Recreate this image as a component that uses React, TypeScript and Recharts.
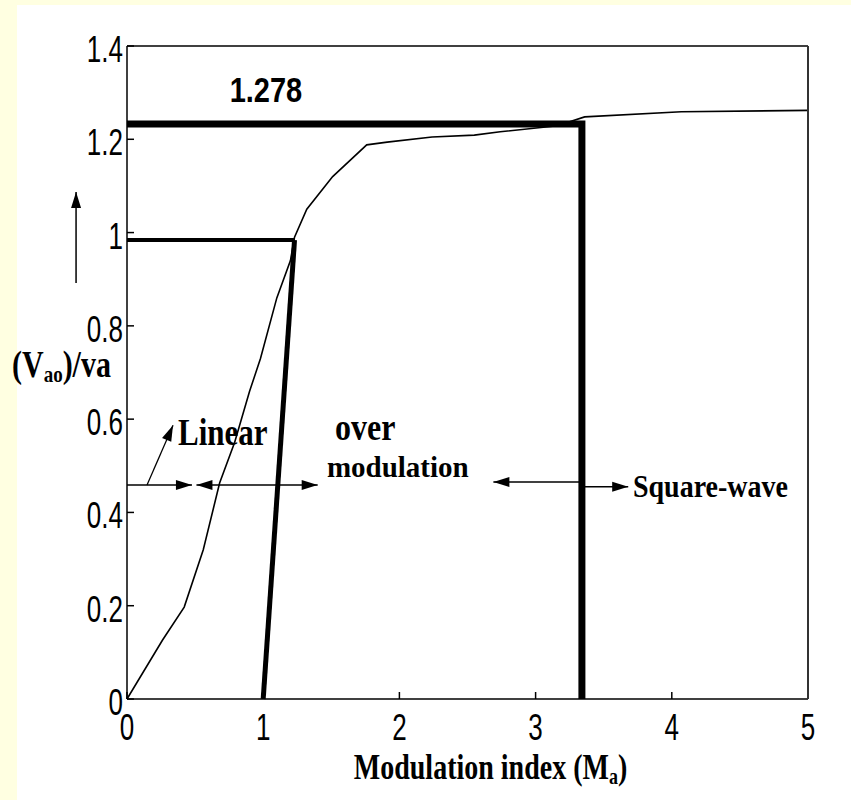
import React from 'react';
import { ComposedChart, Line, XAxis, YAxis, ReferenceLine, ReferenceDot } from 'recharts';

// modulation index vs normalised fundamental voltage
const curveX = [0, 0.26, 0.42, 0.56, 0.68, 0.79, 0.9, 0.98, 1.1, 1.2, 1.23, 1.32, 1.51, 1.76, 1.91, 2.24, 2.55, 2.74, 3.16, 3.36, 4.07, 5];
const curveY = [0, 0.126, 0.197, 0.32, 0.463, 0.55, 0.66, 0.73, 0.86, 0.94, 0.99, 1.05, 1.12, 1.188, 1.194, 1.205, 1.209, 1.216, 1.229, 1.248, 1.259, 1.262];

const xTicks = [0, 1, 2, 3, 4, 5];
const yTicks = [0, 0.2, 0.4, 0.6, 0.8, 1, 1.2, 1.4];

// guide lines
const squareX = [0, 3.34, 3.34];
const squareY = [1.233, 1.233, 0];
const linearHX = [0, 1.23];
const linearHY = [0.984, 0.984];
const linearSX = [1.23, 1.0];
const linearSY = [0.984, 0];

const zip = (xs: number[], ys: number[]) => xs.map((x, i) => ({ x, y: ys[i] }));
const curveData = zip(curveX, curveY);
const squareData = zip(squareX, squareY);
const linearHData = zip(linearHX, linearHY);
const linearSData = zip(linearSX, linearSY);

const SANS = '"Liberation Sans", Arial, sans-serif';
const SERIF = '"Liberation Serif", "Times New Roman", serif';

function StretchText({ x, y, k = 1, anchor = 'start', family = SERIF, size = 28, weight = 'bold', children }: any) {
  return (
    <text
      transform={`translate(${x},${y}) scale(1,${k})`}
      textAnchor={anchor}
      fontFamily={family}
      fontSize={size}
      fontWeight={weight}
      fill="#000"
    >
      {children}
    </text>
  );
}

function arrow(startHead: boolean, endHead: boolean, width = 1.5) {
  return (p: any) => {
    const { x1, y1, x2, y2 } = p;
    const dx = x2 - x1;
    const dy = y2 - y1;
    const len = Math.sqrt(dx * dx + dy * dy) || 1;
    const ux = dx / len;
    const uy = dy / len;
    const head = (tx: number, ty: number, sx: number, sy: number) => {
      const bx = tx - sx * 16;
      const by = ty - sy * 16;
      return `${tx},${ty} ${bx - sy * 5},${by + sx * 5} ${bx + sy * 5},${by - sx * 5}`;
    };
    return (
      <g>
        <line x1={x1} y1={y1} x2={x2} y2={y2} stroke="#000" strokeWidth={width} />
        {endHead && <polygon points={head(x2, y2, ux, uy)} fill="#000" />}
        {startHead && <polygon points={head(x1, y1, -ux, -uy)} fill="#000" />}
      </g>
    );
  };
}

function textAt(content: React.ReactNode, opts: any) {
  return (p: any) => (
    <StretchText x={p.cx} y={p.cy} {...opts}>
      {content}
    </StretchText>
  );
}

function XTick({ x, y, payload }: any) {
  return (
    <StretchText x={x} y={y} k={1.4} anchor="middle" family={SANS} size={26} weight="normal">
      {String(payload.value)}
    </StretchText>
  );
}

function YTick({ x, y, payload }: any) {
  return (
    <StretchText x={x} y={y + 16} k={1.4} anchor="end" family={SANS} size={26} weight="normal">
      {String(payload.value)}
    </StretchText>
  );
}

function XTitle({ viewBox }: any) {
  const { x, y, width } = viewBox;
  return (
    <StretchText x={x + width / 2 + 23} y={y + 80} k={1.3} anchor="middle" size={28}>
      Modulation index (M
      <tspan fontSize={18} dy={4}>a</tspan>
      <tspan dy={-4}>)</tspan>
    </StretchText>
  );
}

function YTitle({ viewBox }: any) {
  const { x, y } = viewBox;
  return (
    <StretchText x={x + 12} y={y + 331} k={1.25} size={30}>
      (V
      <tspan fontSize={19} dy={4}>ao</tspan>
      <tspan dy={-4}>)/va</tspan>
    </StretchText>
  );
}

const noTick = () => <g />;

export default function App() {
  return (
    <div style={{ position: 'absolute', left: 0, top: 0, width: 851, height: 800, background: '#FFFFE1' }}>
      <div style={{ position: 'absolute', left: 17, top: 5, right: 0, bottom: 0, background: '#fff' }} />
      <div style={{ position: 'absolute', left: 0, top: 0 }}>
        <ComposedChart width={851} height={800} margin={{ top: 45, right: 42, bottom: 0, left: 0 }}>
          <XAxis
            dataKey="x"
            type="number"
            domain={[0, 5]}
            ticks={xTicks}
            interval={0}
            height={101}
            tickSize={-7}
            tickMargin={48}
            tick={<XTick />}
            axisLine={{ stroke: '#000', strokeWidth: 1.5 }}
            tickLine={{ stroke: '#000', strokeWidth: 1.5 }}
            label={{ content: XTitle }}
          />
          <XAxis
            xAxisId="top"
            orientation="top"
            dataKey="x"
            type="number"
            domain={[0, 5]}
            ticks={xTicks}
            interval={0}
            height={1}
            tickSize={-7}
            tick={noTick}
            axisLine={{ stroke: '#000', strokeWidth: 1.5 }}
            tickLine={{ stroke: '#000', strokeWidth: 1.5 }}
          />
          <YAxis
            type="number"
            domain={[0, 1.4]}
            ticks={yTicks}
            interval={0}
            width={127}
            tickSize={-7}
            tickMargin={11}
            tick={<YTick />}
            axisLine={{ stroke: '#000', strokeWidth: 1.5 }}
            tickLine={{ stroke: '#000', strokeWidth: 1.5 }}
            label={{ content: YTitle }}
          />
          <YAxis
            yAxisId="right"
            orientation="right"
            type="number"
            domain={[0, 1.4]}
            ticks={yTicks}
            interval={0}
            width={1}
            tickSize={-7}
            tick={noTick}
            axisLine={{ stroke: '#333', strokeWidth: 2 }}
            tickLine={{ stroke: '#000', strokeWidth: 1.5 }}
          />

          <Line data={curveData} dataKey="y" type="linear" stroke="#000" strokeWidth={1.6} dot={false} activeDot={false} isAnimationActive={false} />
          <Line data={squareData} dataKey="y" type="linear" stroke="#000" strokeWidth={7} strokeLinejoin="miter" dot={false} activeDot={false} isAnimationActive={false} />
          <Line data={linearHData} dataKey="y" type="linear" stroke="#000" strokeWidth={4} dot={false} activeDot={false} isAnimationActive={false} />
          <Line data={linearSData} dataKey="y" type="linear" stroke="#000" strokeWidth={5} dot={false} activeDot={false} isAnimationActive={false} />

          {/* region arrows */}
          <ReferenceLine segment={[{ x: 0, y: 0.459 }, { x: 0.477, y: 0.459 }]} shape={arrow(false, true)} />
          <ReferenceLine segment={[{ x: 0.51, y: 0.459 }, { x: 1.4, y: 0.459 }]} shape={arrow(true, true)} />
          <ReferenceLine segment={[{ x: 0.147, y: 0.459 }, { x: 0.338, y: 0.587 }]} shape={arrow(false, true, 1.3)} />
          <ReferenceLine segment={[{ x: 3.34, y: 0.465 }, { x: 2.69, y: 0.465 }]} shape={arrow(false, true)} />
          <ReferenceLine segment={[{ x: 3.34, y: 0.455 }, { x: 3.68, y: 0.455 }]} shape={arrow(false, true)} />
          <ReferenceLine ifOverflow="visible" segment={[{ x: -0.374, y: 0.892 }, { x: -0.374, y: 1.087 }]} shape={arrow(false, true, 1.5)} />

          {/* labels */}
          <ReferenceDot x={1.02} y={1.28} shape={textAt('1.278', { anchor: 'middle', family: SANS, size: 29, k: 1.2 })} />
          <ReferenceDot x={0.375} y={0.545} shape={textAt('Linear', { size: 31, k: 1.2 })} />
          <ReferenceDot x={1.527} y={0.555} shape={textAt('over', { size: 32, k: 1.2 })} />
          <ReferenceDot x={1.468} y={0.476} shape={textAt('modulation', { size: 29, k: 1.05 })} />
          <ReferenceDot x={3.715} y={0.433} shape={textAt('Square-wave', { size: 28, k: 1.1 })} />
        </ComposedChart>
      </div>
    </div>
  );
}
